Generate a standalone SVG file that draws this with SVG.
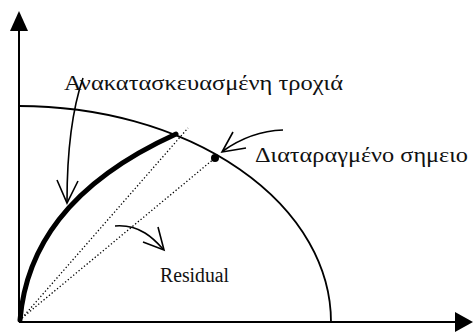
<svg xmlns="http://www.w3.org/2000/svg" width="473" height="332" viewBox="0 0 473 332">
<style>
.ax{stroke:#000;stroke-width:2;fill:none}
.ell{stroke:#000;stroke-width:1.8;fill:none}
.traj{stroke:#000;stroke-width:5;fill:none;stroke-linecap:round}
.dot{stroke:#000;stroke-width:1.3;fill:none;stroke-dasharray:1.3,2.2}
.lead{stroke:#000;stroke-width:1.6;fill:none}
.head{stroke:#000;stroke-width:1.6;fill:none;stroke-linejoin:miter}
.lbl{font-family:"Liberation Serif","DejaVu Serif",serif;font-size:20px;fill:#111}
</style>
<rect width="473" height="332" fill="#fff"/>
<g id="axes">
<line class="ax" x1="19" y1="322" x2="19" y2="28"/>
<polygon points="19,11 10,31 28,31" fill="#000"/>
<line class="ax" x1="19" y1="322" x2="458" y2="322"/>
<polygon points="473,322 455,312 455,332" fill="#000"/>
</g>
<g id="boundary">
<path class="ell" d="M19,106 A312,216 0 0 1 331,322"/>
</g>
<g id="trajectory">
<path class="traj" d="M20,320 C26,250 66,184 176,134"/>
</g>
<g id="perturbed-point">
<circle cx="215" cy="158" r="4" fill="#000"/>
</g>
<g id="connectors">
<line class="dot" x1="22" y1="318" x2="188" y2="128"/>
<line class="dot" x1="22" y1="318" x2="215" y2="158"/>
<path class="lead" d="M83,78 C72,110 67,150 67,202"/>
<polyline class="head" points="57,180 67,203 78,181"/>
<path class="lead" d="M283,130 C256,131 237,141 223,151"/>
<polyline class="head" points="233,132 222,152 246,148"/>
<path class="lead" d="M115,226 C140,224 154,239 163,249"/>
<polyline class="head" points="158,227 164,250 143,242"/>
</g>
<g id="label-traj">
<text class="lbl" x="64" y="90" textLength="279" lengthAdjust="spacingAndGlyphs">Ανακατασκευασμένη τροχιά</text>
</g>
<g id="label-point">
<text class="lbl" x="255" y="162" textLength="213" lengthAdjust="spacingAndGlyphs">Διαταραγμένο σημειο</text>
</g>
<g id="label-residual">
<text class="lbl" x="160" y="282" textLength="69" lengthAdjust="spacingAndGlyphs">Residual</text>
</g>
</svg>
